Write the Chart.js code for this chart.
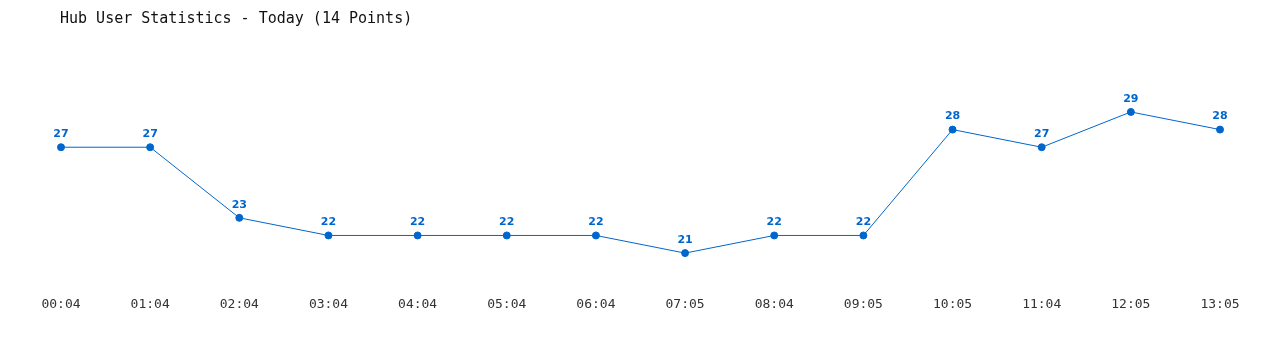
<!DOCTYPE html>
<html>
<head>
<meta charset="utf-8">
<script src="https://cdn.jsdelivr.net/npm/chart.js@4"></script>
<style>
    body { margin: 0; background: #fff; }
    #wrap { position: relative; width: 1280px; height: 350px; }
    #title {
        position: absolute; left: 60px; top: 9px;
        font: 15px "DejaVu Sans Mono", monospace; color: #111;
    }
</style>
</head>
<body>
<div id="wrap">
    <div id="title">Hub User Statistics - Today (14 Points)</div>
    <canvas id="userChart" width="1280" height="350"></canvas>
</div>
<script>
// times of each sample
let times = ["00:04", "01:04", "02:04", "03:04", "04:04", "05:04", "06:04",
             "07:05", "08:04", "09:05", "10:05", "11:04", "12:05", "13:05"];
// users online
let users = [27, 27, 23, 22, 22, 22, 22, 21, 22, 22, 28, 27, 29, 28];

// draw the value above every point
let valueLabels = {
    id: "valueLabels",
    afterDatasetsDraw(chart) {
        let ctx = chart.ctx;
        let meta = chart.getDatasetMeta(0);
        ctx.save();
        ctx.font = "bold 11px 'DejaVu Sans', sans-serif";
        ctx.fillStyle = "#0066cc";
        ctx.textAlign = "center";
        ctx.textBaseline = "middle";
        meta.data.forEach((pt, i) => {
            ctx.fillText(users[i], pt.x, pt.y - 13);
        });
        ctx.restore();
    }
};

let ctx = document.getElementById("userChart").getContext("2d");

let chart = new Chart(ctx, {
    type: "line",
    data: {
        labels: times,
        datasets: [{
            data: users,
            borderColor: "#0066cc",
            backgroundColor: "#0066cc",
            borderWidth: 1,
            pointRadius: 3.5,
            pointHoverRadius: 3.5,
            tension: 0
        }]
    },
    options: {
        responsive: false,
        animation: false,
        layout: {
            padding: { top: 59, bottom: 38, left: 61, right: 60 }
        },
        plugins: {
            legend: { display: false },
            tooltip: { enabled: false }
        },
        scales: {
            x: {
                grid: { display: false },
                border: { display: false },
                ticks: {
                    color: "#333",
                    padding: 0,
                    maxRotation: 0,
                    autoSkip: false,
                    font: { family: "'DejaVu Sans Mono', monospace", size: 13 }
                }
            },
            y: {
                display: false,
                min: 19,
                max: 32
            }
        }
    },
    plugins: [valueLabels]
});
</script>
</body>
</html>
